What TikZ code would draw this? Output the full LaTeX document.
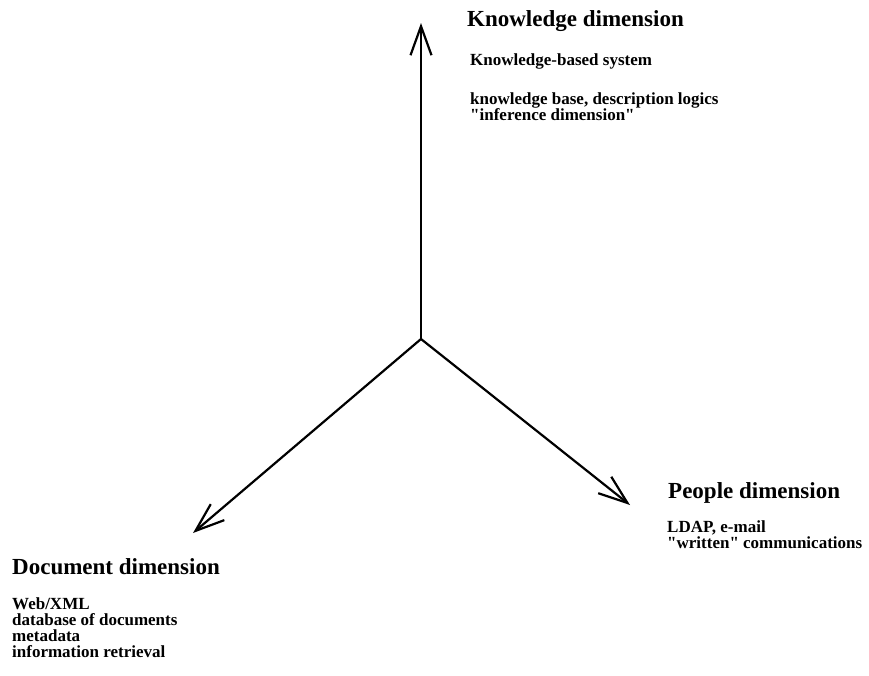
\documentclass[tikz,border=0pt]{standalone}
\usepackage{fontspec}
\setmainfont{Liberation Serif}[Ligatures=TeXOff]
\usetikzlibrary{arrows.meta}
\begin{document}
\begin{tikzpicture}[x=1pt,y=-1pt,
  axis/.style={line width=2.2pt,-{Straight Barb[length=29pt,width=21pt]}},
  head/.style={anchor=base west,inner sep=0pt,font=\bfseries\fontsize{23}{23}\selectfont},
  sub/.style={anchor=base west,inner sep=0pt,font=\bfseries\fontsize{17}{16}\selectfont}]
\useasboundingbox (0,0) rectangle (869,675);
\coordinate (O) at (421,339);
\coordinate (K) at (421,23);
\coordinate (P) at (630,505);
\coordinate (D) at (193,533);
\draw[axis] (O) -- (K);
\draw[axis] (O) -- (P);
\draw[axis] (O) -- (D);
\node[head] (kh) at (467,26) {Knowledge dimension};
\node[sub] (k1) at (470,65) {Knowledge-based system};
\node[sub] (k2) at (470,104) {knowledge base, description logics};
\node[sub] (k3) at (470,120) {"inference dimension"};
\node[head] (ph) at (668,498) {People dimension};
\node[sub] (p1) at (667,532) {LDAP, e-mail};
\node[sub] (p2) at (667,548) {"written" communications};
\node[head] (dh) at (12,574) {Document dimension};
\node[sub] (d1) at (12,609) {Web/XML};
\node[sub] (d2) at (12,625) {database of documents};
\node[sub] (d3) at (12,641) {metadata};
\node[sub] (d4) at (12,657) {information retrieval};
\end{tikzpicture}
\end{document}
